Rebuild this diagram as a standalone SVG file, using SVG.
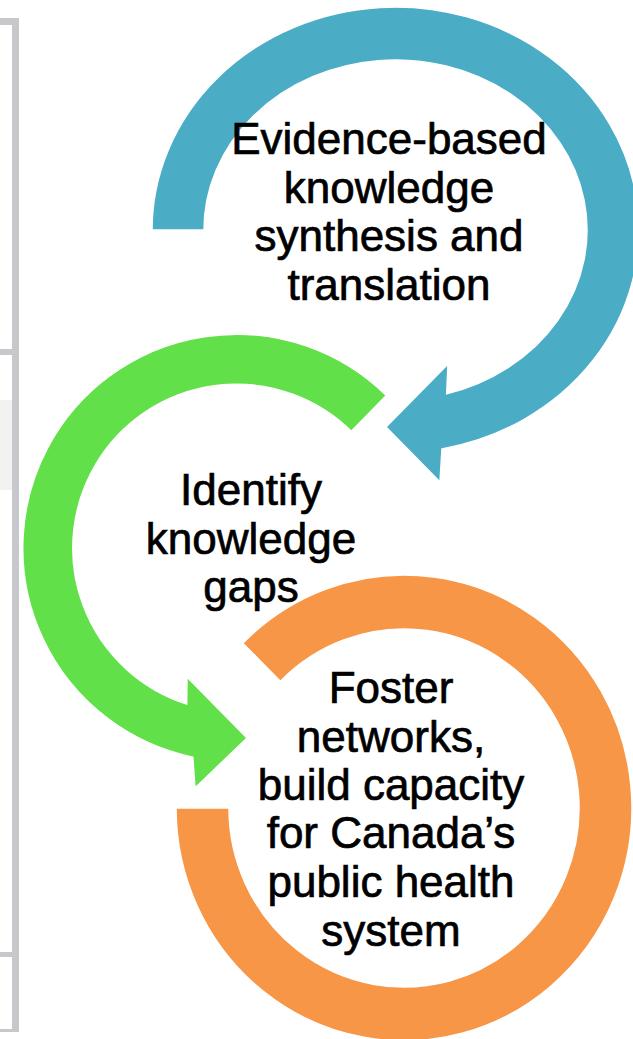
<svg xmlns="http://www.w3.org/2000/svg" width="633" height="1039" viewBox="0 0 633 1039">
  <style>
    .lbl { font-family: "Liberation Sans", Arial, sans-serif; font-size: 44px; fill: #000; stroke: #000; stroke-width: 0.7; text-anchor: middle; }
    .frame { fill: #c6c8cc; }
    .shape { stroke: #fff; stroke-width: 1.5; }
  </style>
  <rect width="633" height="1039" fill="#fff"/>
  <g id="page-frame">
    <rect x="0" y="400" width="12" height="90" fill="#f2f2f3"/>
    <rect class="frame" x="12" y="18" width="7" height="1014"/>
    <rect class="frame" x="0" y="18" width="19" height="7"/>
    <rect class="frame" x="0" y="349" width="12" height="6"/>
    <rect class="frame" x="0" y="952" width="12" height="5"/>
    <rect class="frame" x="0" y="1029" width="12" height="3"/>
  </g>
  <g id="connectors"></g>
  <g id="node-evidence">
    <path class="shape" fill="#4bacc6" d="M152,230 A243.5,223 0 1 1 442,448.9 L440,482 L386,427 L448,364 L446.7,393.8 A191.5,170 0 1 0 204,230 Z"/>
    <text class="lbl" x="389" y="154">Evidence-based</text>
    <text class="lbl" x="389" y="203">knowledge</text>
    <text class="lbl" x="389" y="251">synthesis and</text>
    <text class="lbl" x="389" y="300">translation</text>
  </g>
  <g id="node-gaps">
    <path class="shape" fill="#61e049" d="M386.3,395.5 A213.75,213.75 0 1 0 192.8,757.2 L195,788 L247,738 L187,677 L186.7,704 A163.75,163.75 0 1 1 351.3,431.2 Z"/>
    <text class="lbl" x="251" y="505">Identify</text>
    <text class="lbl" x="251" y="554">knowledge</text>
    <text class="lbl" x="251" y="602">gaps</text>
  </g>
  <g id="node-networks">
    <path class="shape" fill="#f79646" d="M176,808 A228,233 0 1 0 242.8,643.2 L280.3,681.4 A175,179 0 1 1 229,808 Z"/>
    <text class="lbl" x="391" y="703">Foster</text>
    <text class="lbl" x="391" y="752">networks,</text>
    <text class="lbl" x="391" y="800">build capacity</text>
    <text class="lbl" x="391" y="848">for Canada’s</text>
    <text class="lbl" x="391" y="897">public health</text>
    <text class="lbl" x="391" y="946">system</text>
  </g>
</svg>
